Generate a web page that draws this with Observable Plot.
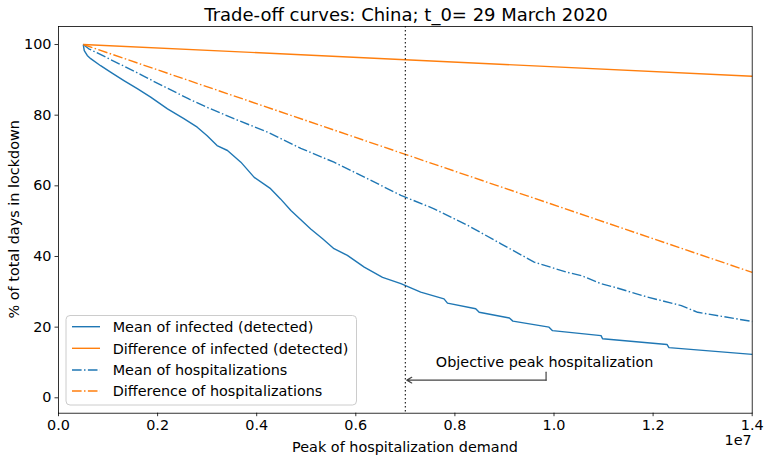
<!DOCTYPE html>
<html><head><meta charset="utf-8">
<script src="https://cdn.jsdelivr.net/npm/d3@7"></script>
<script src="https://cdn.jsdelivr.net/npm/@observablehq/plot@0.6"></script>
<style>body{margin:0;background:#fff} #chart{width:764px;height:459px}</style>
</head><body><div id="chart"></div>
<script>
// ---- data (x in hospitalization demand, y in % of total days in lockdown)
const infMeanX = [0.050e7,0.052e7,0.058e7,0.065e7,0.085e7,0.105e7,0.132e7,0.159e7,0.186e7,0.220e7,0.253e7,0.280e7,0.300e7,0.320e7,0.341e7,0.368e7,0.395e7,0.428e7,0.448e7,0.469e7,0.509e7,0.533e7,0.556e7,0.583e7,0.617e7,0.654e7,0.691e7,0.711e7,0.731e7,0.778e7,0.785e7,0.842e7,0.849e7,0.910e7,0.917e7,0.990e7,0.997e7,1.095e7,1.098e7,1.228e7,1.232e7,1.400e7];
const infMeanY = [100,98.3,96.9,96,94,92.2,89.8,87.5,85.1,81.8,79,76.6,74.2,71.4,70,66.7,62.4,59.2,56.3,53,47.8,45,42.2,40.3,37,34.1,32.3,31.1,29.9,28,26.8,25.2,24.2,22.6,21.7,20,19,17.6,16.7,15.1,14.2,12.3];

const infDiffX = [0.05e7, 0.70e7, 1.40e7];
const infDiffY = [100, 95.7, 91];

const hospMeanX = [0.050e7,0.061e7,0.129e7,0.166e7,0.196e7,0.263e7,0.300e7,0.354e7,0.422e7,0.489e7,0.556e7,0.624e7,0.691e7,0.758e7,0.826e7,0.893e7,0.960e7,1.027e7,1.055e7,1.095e7,1.122e7,1.189e7,1.257e7,1.290e7,1.400e7];
const hospMeanY = [100,98.8,94.1,91.5,89.3,84.6,82.2,79,75.2,70.6,66.7,62,57.3,53.5,48.8,43.6,38.4,35.5,34.6,32.3,31.3,28.5,26.1,24.2,21.6];

const hospDiffX = [0.05e7, 0.70e7, 1.40e7];
const hospDiffY = [100, 68.9, 35.5];

const seriesNames = ["Mean of infected (detected)", "Difference of infected (detected)", "Mean of hospitalizations", "Difference of hospitalizations"];

const xTicks = [0, 0.2e7, 0.4e7, 0.6e7, 0.8e7, 1.0e7, 1.2e7, 1.4e7];
const yTicks = [0, 20, 40, 60, 80, 100];

const objectivePeak = 7e6;
const annotationText = "Objective peak hospitalization";
const annotationTextPos = {x: 0.981e7, y: 8.66};
const annotationArrow = {xText: 0.984e7, yTop: 7.25, y: 5, xTip: 0.703e7};

const titleText = "Trade-off curves: China; t_0= 29 March 2020";
const xLabel = "Peak of hospitalization demand";
const yLabel = "% of total days in lockdown";

// ---- styles
const BLUE = "#1f77b4", ORANGE = "#ff7f0e";
const DASHDOT = "9.6,2.4,1.5,2.4";
const styles = [
  {stroke: BLUE, dash: null},
  {stroke: ORANGE, dash: null},
  {stroke: BLUE, dash: DASHDOT},
  {stroke: ORANGE, dash: DASHDOT}
];
const LW = 1.4;
const FONT = "DejaVu Sans";
const FS = 14.4;

const zip = (xs, ys) => xs.map((x, i) => ({x, y: ys[i]}));
const series = [zip(infMeanX, infMeanY), zip(infDiffX, infDiffY), zip(hospMeanX, hospMeanY), zip(hospDiffX, hospDiffY)];

const lineMarks = series.map((d, i) => Plot.line(d, {
  x: "x", y: "y", stroke: styles[i].stroke, strokeWidth: LW,
  strokeDasharray: styles[i].dash || undefined, strokeLinejoin: "round", strokeLinecap: "butt"
}));

const fmtX = d => (d / 1e7).toFixed(1);

const svg = Plot.plot({
  width: 764, height: 459,
  marginLeft: 58, marginRight: 12.3, marginTop: 26, marginBottom: 46.3,
  x: {domain: [0, 1.4e7]},
  y: {domain: [-4.36, 105.1]},
  style: {fontFamily: FONT, fontSize: FS + "px", background: "white", color: "black", overflow: "visible"},
  marks: [
    Plot.axisX({ticks: xTicks, tickFormat: fmtX, tickSize: 3.5, tickPadding: 3.5, label: null, fontSize: FS, strokeWidth: 0.8}),
    Plot.axisY({ticks: yTicks, tickSize: 3.5, tickPadding: 3.5, label: null, fontSize: FS, strokeWidth: 0.8}),
    ...lineMarks,
    Plot.ruleX([objectivePeak], {stroke: "#222", strokeWidth: 1.2, strokeDasharray: "1.5,2.5"}),
    Plot.text([annotationTextPos], {x: "x", y: "y", text: () => annotationText, textAnchor: "middle", lineAnchor: "bottom", fontSize: FS, fill: "black"}),
    Plot.line([{x: annotationArrow.xText, y: annotationArrow.yTop}, {x: annotationArrow.xText, y: annotationArrow.y}], {x: "x", y: "y", stroke: "#444", strokeWidth: 1.2}),
    Plot.arrow([annotationArrow], {x1: "xText", y1: "y", x2: "xTip", y2: "y", stroke: "#444", strokeWidth: 1.2, headLength: 7, headAngle: 60}),
    Plot.frame({stroke: "black", strokeWidth: 0.8})
  ]
});

const s = d3.select(svg);
const txt = (x, y, t, opts = {}) => {
  const e = s.append("text").attr("x", x).attr("y", y).text(t)
    .attr("font-family", FONT).attr("font-size", opts.fs || FS).attr("fill", "black")
    .attr("text-anchor", opts.anchor || "start");
  if (opts.rotate) e.attr("transform", `rotate(-90 ${x} ${y})`);
  return e;
};
txt(406, 21, titleText, {anchor: "middle", fs: 18});
txt(405, 452, xLabel, {anchor: "middle"});
txt(19, 219.3, yLabel, {anchor: "middle", rotate: true});
txt(751.7, 445, "1e7", {anchor: "end"});

// legend
const lg = s.append("g");
lg.append("rect").attr("x", 66).attr("y", 315.5).attr("width", 290.5).attr("height", 89.5).attr("rx", 4)
  .attr("fill", "white").attr("fill-opacity", 0.8).attr("stroke", "#cccccc").attr("stroke-width", 1);
const rowY = [326.7, 348.3, 370.0, 391.0];
seriesNames.forEach((name, i) => {
  lg.append("line").attr("x1", 72).attr("x2", 100).attr("y1", rowY[i]).attr("y2", rowY[i])
    .attr("stroke", styles[i].stroke).attr("stroke-width", LW)
    .attr("stroke-dasharray", styles[i].dash || null);
  lg.append("text").attr("x", 112.7).attr("y", rowY[i] + 5.3).text(name)
    .attr("font-family", FONT).attr("font-size", FS).attr("fill", "black")
    .attr("text-anchor", "start");
});

document.getElementById("chart").appendChild(svg);
</script>
</body></html>
